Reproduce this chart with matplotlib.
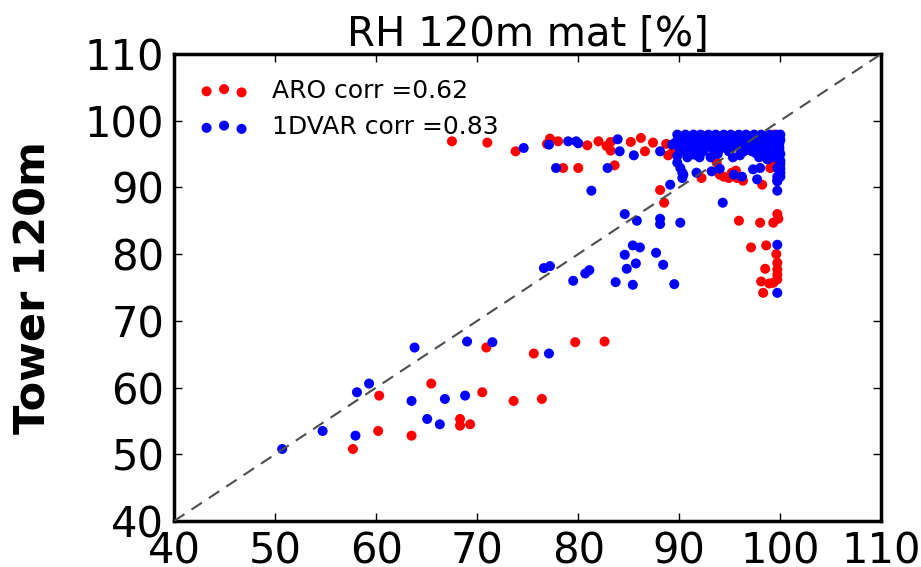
import numpy as np
import matplotlib
matplotlib.use("Agg")
import matplotlib.pyplot as plt

# ARO (red) points
aro_x = [57.7, 60.2, 63.5, 60.3, 65.45, 68.3, 68.3, 69.3, 70.5, 70.9, 73.6, 75.6, 76.4, 79.7, 82.6,
         67.5, 71.0, 73.8, 76.9, 77.2, 78.0, 78.5, 80.0, 80.9, 82.0, 82.8, 83.2, 83.2, 83.6, 85.2,
         86.2, 86.6, 87.4, 88.7, 88.9, 88.1, 88.5,
         92.2, 94.0, 94.4, 94.9, 95.2, 95.6, 95.7, 96.3, 98.2, 99.0, 99.3, 93.7, 89.3, 92.2, 93.7,
         96.0, 96.9, 99.3, 91.0, 94.5, 97.5, 98.5, 99.6, 99.7,
         95.9, 98.0, 99.3, 99.7, 99.8, 97.1, 98.6, 99.6, 99.7, 98.5, 99.7, 99.7, 98.1, 98.9, 99.7,
         99.3, 98.3]
aro_y = [50.8, 53.5, 52.8, 58.8, 60.6, 55.3, 54.3, 54.5, 59.3, 66.0, 58.0, 65.1, 58.3, 66.8, 66.9,
         96.9, 96.7, 95.4, 96.5, 97.3, 96.9, 92.9, 92.9, 96.3, 96.9, 96.2, 96.8, 95.5, 93.3, 96.8,
         97.4, 95.4, 96.7, 96.5, 94.8, 89.6, 87.7,
         91.4, 91.9, 91.6, 91.4, 92.2, 92.5, 91.4, 91.0, 90.4, 92.9, 93.2, 93.7, 95.2, 97.8, 96.7,
         94.9, 95.7, 97.9, 96.5, 97.5, 96.8, 95.2, 94.2, 93.9,
         85.0, 84.7, 84.7, 86.0, 85.3, 81.0, 81.3, 80.0, 78.7, 77.8, 77.7, 76.9, 75.9, 75.6, 76.2,
         75.7, 74.2]

# 1DVAR (blue) points
var_x = [50.7, 54.7, 57.95, 58.1, 59.3, 63.5, 63.8, 65.05, 66.3, 66.8, 68.8, 69.0, 71.5, 77.1,
         76.6, 77.2, 79.5, 80.7, 81.1, 83.7, 84.8, 85.7, 85.4, 84.6, 85.4, 86.1, 87.7, 88.4, 89.5,
         84.6, 85.8, 88.1, 88.1, 90.1, 94.3, 81.3, 89.1, 99.7, 99.7, 99.7, 99.7,
         74.6, 77.1, 77.8, 79.0, 79.8, 80.0, 82.9, 83.9, 84.1, 85.5, 88.1, 89.3,
         89.8, 90.6, 91.4, 92.1, 92.9, 93.6, 94.4, 95.1, 95.9, 96.6, 97.4, 98.1, 98.9, 99.6, 100.0,
         90.2, 91.0, 91.8, 92.5, 93.2, 94.0, 94.8, 95.5, 96.3, 97.0, 97.8, 98.5, 99.3, 100.0,
         89.9, 90.7, 91.5, 92.8, 93.9, 94.6, 95.8, 96.8, 97.6, 98.3, 99.1, 99.8,
         90.3, 91.2, 92.4, 93.5, 94.9, 96.4, 97.2, 98.6, 99.5,
         90.8, 92.0, 93.1, 95.3, 97.9, 99.2, 99.8,
         100.0, 100.0, 100.0, 100.0, 100.0, 100.0,
         89.8, 89.8, 90.1, 90.3, 90.3, 91.7, 93.2, 94.0, 95.4, 96.2, 97.3, 97.7, 98.0, 98.7,
         99.7, 99.7, 99.7, 90.4,
         # extra points filling the dense blob
         90.2, 91.0, 91.7, 92.5, 93.3, 94.0, 94.8, 95.5, 96.2, 97.0, 97.7, 98.5, 99.2, 99.9,
         89.6, 90.5, 91.2, 92.2, 93.0, 93.6, 94.3, 95.1, 96.0, 96.6, 97.3, 98.0, 98.8, 99.5,
         90.0, 91.0, 91.9, 93.3, 94.2, 95.2, 96.1, 97.0, 98.1, 99.0, 99.9,
         91.5, 93.8, 96.0, 97.6, 98.9, 99.9, 99.9, 99.9]
var_y = [50.8, 53.5, 52.8, 59.3, 60.6, 58.0, 66.0, 55.3, 54.5, 58.3, 58.8, 66.9, 66.8, 65.1,
         77.9, 78.2, 76.0, 77.1, 77.6, 75.8, 77.8, 78.6, 75.4, 79.9, 81.3, 81.0, 80.2, 78.4, 75.5,
         86.0, 85.0, 85.3, 84.5, 84.7, 87.7, 89.5, 90.4, 89.5, 90.9, 81.4, 74.2,
         95.9, 96.4, 92.9, 96.9, 96.9, 96.6, 92.9, 97.2, 95.4, 94.8, 95.4, 96.4,
         97.9, 97.9, 97.9, 97.9, 97.9, 97.9, 97.9, 97.9, 97.9, 97.9, 97.9, 97.9, 97.9, 97.9, 97.9,
         97.1, 97.1, 97.1, 97.1, 97.1, 97.1, 97.1, 97.1, 97.1, 97.1, 97.1, 97.1, 97.1, 97.1,
         96.3, 96.3, 96.3, 96.3, 96.3, 96.3, 96.3, 96.3, 96.3, 96.3, 96.3, 96.3,
         95.4, 95.4, 95.4, 95.4, 95.4, 95.4, 95.4, 95.4, 95.4,
         94.5, 94.5, 94.5, 94.5, 94.5, 94.5, 94.5,
         93.5, 92.8, 92.2, 91.6, 95.0, 94.0,
         94.7, 93.7, 92.9, 91.4, 92.2, 92.2, 92.4, 92.8, 91.9, 91.6, 92.7, 91.2, 92.9, 94.2,
         91.6, 91.1, 92.9, 91.9,
         97.5, 97.6, 97.4, 97.6, 97.5, 97.6, 97.4, 97.6, 97.5, 97.6, 97.4, 97.6, 97.5, 97.6,
         96.7, 96.8, 96.6, 96.8, 96.7, 96.6, 96.8, 96.7, 96.6, 96.8, 96.7, 96.6, 96.8, 96.7,
         95.9, 95.8, 96.0, 95.8, 95.9, 96.0, 95.8, 95.9, 95.9, 95.8, 96.0,
         94.9, 95.0, 94.8, 95.1, 94.9, 96.6, 95.6, 93.2]

aro_label = "ARO corr =0.62"
var_label = "1DVAR corr =0.83"
ticks = [40, 50, 60, 70, 80, 90, 100, 110]

fig = plt.figure(figsize=(9.21, 5.67), dpi=100)
ax = fig.add_axes([0.189, 0.081, 0.768, 0.824])

ax.scatter(aro_x, aro_y, s=52, c="#ff0000", edgecolors="none", label=aro_label, zorder=2)
ax.scatter(var_x, var_y, s=52, c="#0000ff", edgecolors="none", label=var_label, zorder=3)
line, = ax.plot([40, 110], [40, 110], "--", color="0.3", lw=1.5, zorder=4)
line.set_dashes((6, 4))

ax.set_xlim(40, 110)
ax.set_ylim(40, 110)
ax.set_xticks(ticks)
ax.set_yticks(ticks)
ax.tick_params(direction="in", top=True, right=True, length=6, width=1,
               labelsize=30, pad=7)
for sp in ax.spines.values():
    sp.set_linewidth(2.5)

ax.set_title("RH 120m mat [%]", fontsize=29, pad=6)
ax.set_ylabel("Tower 120m", fontsize=31, fontweight="bold", labelpad=22)

ax.legend(loc="upper left", frameon=False, scatterpoints=3, fontsize=18,
          handletextpad=0.9, borderaxespad=0.6, labelspacing=0.5)

fig.savefig("out.png", dpi=100)
